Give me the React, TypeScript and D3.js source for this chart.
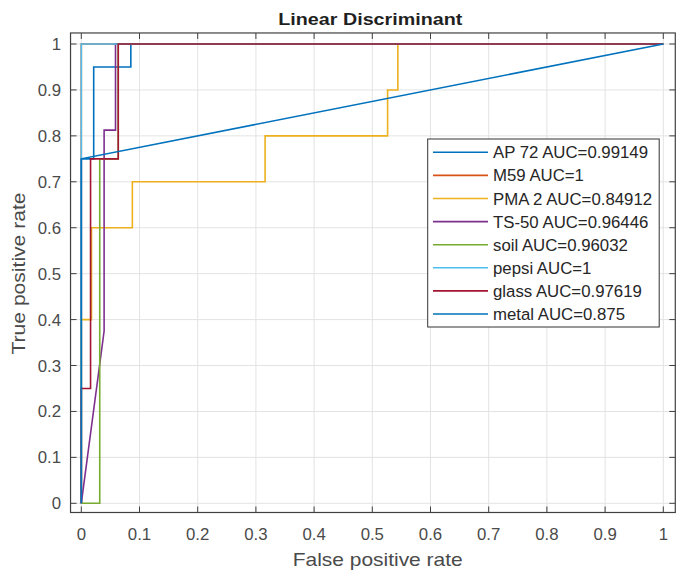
import React from "react";
import * as d3 from "d3";

const W = 678;
const H = 573;

const xTicks = [0, 0.1, 0.2, 0.3, 0.4, 0.5, 0.6, 0.7, 0.8, 0.9, 1];
const yTicks = [0, 0.1, 0.2, 0.3, 0.4, 0.5, 0.6, 0.7, 0.8, 0.9, 1];
const xTickLabels = ["0", "0.1", "0.2", "0.3", "0.4", "0.5", "0.6", "0.7", "0.8", "0.9", "1"];
const yTickLabels = ["0", "0.1", "0.2", "0.3", "0.4", "0.5", "0.6", "0.7", "0.8", "0.9", "1"];

const names = ["AP 72", "M59", "PMA 2", "TS-50", "soil", "pepsi", "glass", "metal"];
const aucs = ["0.99149", "1", "0.84912", "0.96446", "0.96032", "1", "0.97619", "0.875"];
const colors = ["#0072BD", "#D95319", "#EDB120", "#7E2F8E", "#77AC30", "#4DBEEE", "#A2142F", "#0072BD"];

const fprAP72 = [0, 0, 0.0213, 0.0213, 0.0851, 0.0851, 1];
const tprAP72 = [0, 0.75, 0.75, 0.95, 0.95, 1, 1];
const fprM59 = [0, 0, 1];
const tprM59 = [0, 1, 1];
const fprPMA2 = [0, 0, 0.0175, 0.0175, 0.0877, 0.0877, 0.3158, 0.3158, 0.5263, 0.5263, 0.5439, 0.5439, 1];
const tprPMA2 = [0, 0.4, 0.4, 0.6, 0.6, 0.7, 0.7, 0.8, 0.8, 0.9, 0.9, 1, 1];
const fprTS50 = [0, 0.0392, 0.0392, 0.0588, 0.0588, 1];
const tprTS50 = [0, 0.375, 0.8125, 0.8125, 1, 1];
const fprSoil = [0, 0.0317, 0.0317, 0.0635, 0.0635, 1];
const tprSoil = [0, 0, 0.75, 0.75, 1, 1];
const fprPepsi = [0, 0, 1];
const tprPepsi = [0, 1, 1];
const fprGlass = [0, 0, 0.0159, 0.0159, 0.0635, 0.0635, 1];
const tprGlass = [0, 0.25, 0.25, 0.75, 0.75, 1, 1];
const fprMetal = [0, 0, 1];
const tprMetal = [0, 0.75, 1];

const fprs = [fprAP72, fprM59, fprPMA2, fprTS50, fprSoil, fprPepsi, fprGlass, fprMetal];
const tprs = [tprAP72, tprM59, tprPMA2, tprTS50, tprSoil, tprPepsi, tprGlass, tprMetal];

const X_MIN = -0.0185;
const X_MAX = 1.0206;
const Y_MIN = -0.02;
const Y_MAX = 1.024;

export default function App() {
  const x = d3.scaleLinear().domain([0, 1]).range([81.3, 663.3]);
  const y = d3.scaleLinear().domain([0, 1]).range([503.3, 44]);
  const left = x(X_MIN);
  const right = x(X_MAX);
  const top = y(Y_MAX);
  const bottom = y(Y_MIN);
  const tickLen = 6;
  const axisColor = "#404040";
  const gridColor = "#e3e3e3";
  const font = "'Liberation Sans', Arial, Helvetica, sans-serif";

  const line = d3
    .line<[number, number]>()
    .x((d) => x(d[0]))
    .y((d) => y(d[1]));

  const legendX = 427.7;
  const legendY = 139;
  const legendW = 231.5;
  const legendH = 188;
  const rowY0 = 152.3;
  const rowStep = 23.1;

  return (
    <svg
      width={W}
      height={H}
      style={{ position: "absolute", left: 0, top: 0, background: "#fff" }}
      fontFamily={font}
    >
      <rect x={0} y={0} width={W} height={H} fill="#fff" />
      {xTicks.map((t, i) => (
        <line key={"gx" + i} x1={x(t)} x2={x(t)} y1={top} y2={bottom} stroke={gridColor} strokeWidth={1} />
      ))}
      {yTicks.map((t, i) => (
        <line key={"gy" + i} x1={left} x2={right} y1={y(t)} y2={y(t)} stroke={gridColor} strokeWidth={1} />
      ))}
      {names.map((n, i) => {
        const pts: [number, number][] = fprs[i].map((f, j) => [f, tprs[i][j]]);
        return (
          <path
            key={"c" + i}
            d={line(pts) || ""}
            fill="none"
            stroke={colors[i]}
            strokeWidth={1.6}
            strokeLinejoin="miter"
          />
        );
      })}
      {xTicks.map((t, i) => (
        <g key={"tx" + i}>
          <line x1={x(t)} x2={x(t)} y1={bottom} y2={bottom - tickLen} stroke={axisColor} strokeWidth={1} />
          <line x1={x(t)} x2={x(t)} y1={top} y2={top + tickLen} stroke={axisColor} strokeWidth={1} />
          <text x={x(t)} y={539.5} textAnchor="middle" fontSize={16.8} fill="#4a4a4a">
            {xTickLabels[i]}
          </text>
        </g>
      ))}
      {yTicks.map((t, i) => (
        <g key={"ty" + i}>
          <line x1={left} x2={left + tickLen} y1={y(t)} y2={y(t)} stroke={axisColor} strokeWidth={1} />
          <line x1={right} x2={right - tickLen} y1={y(t)} y2={y(t)} stroke={axisColor} strokeWidth={1} />
          <text x={61} y={y(t) + 6} textAnchor="end" fontSize={16.8} fill="#4a4a4a">
            {yTickLabels[i]}
          </text>
        </g>
      ))}
      <rect x={left} y={top} width={right - left} height={bottom - top} fill="none" stroke={axisColor} strokeWidth={1.2} />
      <text
        x={278.3}
        y={24.5}
        fontSize={17.4}
        fontWeight="bold"
        fill="#1f1f1f"
        textLength={184}
        lengthAdjust="spacingAndGlyphs"
      >
        Linear Discriminant
      </text>
      <text
        x={292.7}
        y={566}
        fontSize={18.6}
        fill="#4a4a4a"
        textLength={170}
        lengthAdjust="spacingAndGlyphs"
      >
        False positive rate
      </text>
      <text
        transform={`translate(25, ${273.5 + 81}) rotate(-90)`}
        fontSize={18.6}
        fill="#4a4a4a"
        textLength={162}
        lengthAdjust="spacingAndGlyphs"
      >
        True positive rate
      </text>
      <rect x={legendX} y={legendY} width={legendW} height={legendH} fill="#fff" stroke="#333" strokeWidth={1} />
      {names.map((n, i) => (
        <g key={"lg" + i}>
          <line
            x1={433}
            x2={488}
            y1={rowY0 + i * rowStep}
            y2={rowY0 + i * rowStep}
            stroke={colors[i]}
            strokeWidth={1.6}
          />
          <text x={493} y={rowY0 + i * rowStep + 6} fontSize={16.8} fill="#262626">
            {`${n} AUC=${aucs[i]}`}
          </text>
        </g>
      ))}
    </svg>
  );
}
